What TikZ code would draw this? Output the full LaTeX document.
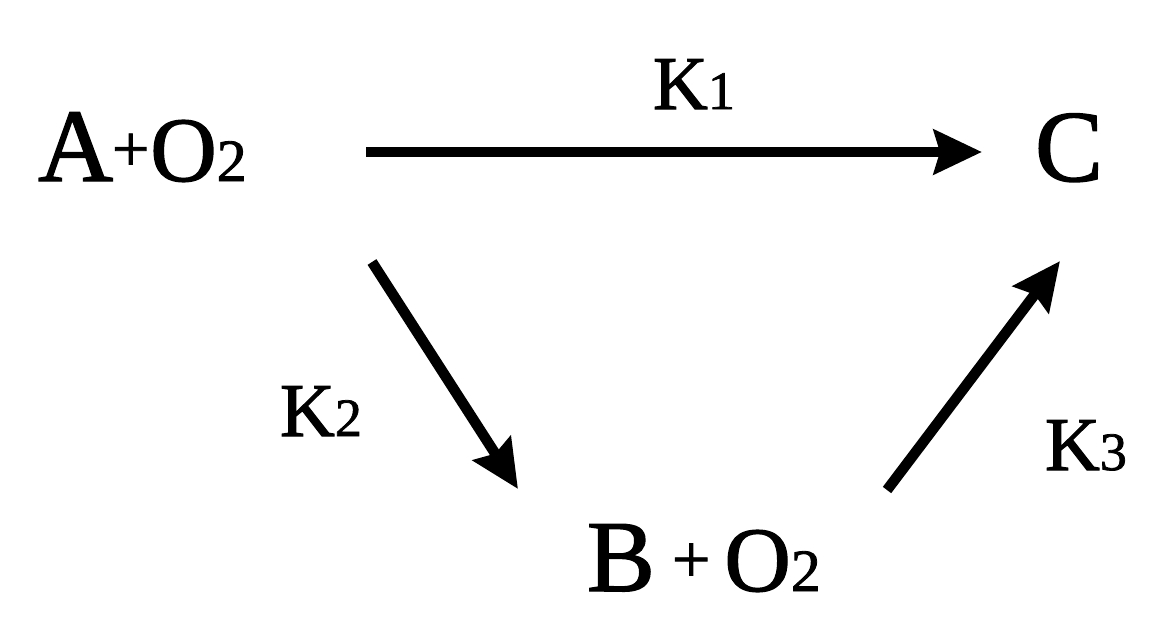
\documentclass[tikz,border=0pt]{standalone}
\usepackage{fontspec}
\setmainfont{Liberation Serif}
\newfontfamily\thk{Liberation Serif}[FakeBold=1.4]
\usetikzlibrary{arrows.meta}
\newcommand{\fs}[1]{\fontsize{#1}{#1}\selectfont}
\tikzset{
  lbl/.style={inner sep=0pt, outer sep=0pt, anchor=base west, font=\thk},
  arr/.style={line width=10.5pt, -{Stealth[length=48pt,width=44pt,inset=6pt]}}
}
\begin{document}
\begin{tikzpicture}[x=1pt,y=-1pt]
\useasboundingbox (0,0) rectangle (1169,633);
% species
\node[lbl] (AO) at (38,181) {\fs{104}A\hspace{-1pt}\raisebox{10pt}{\fs{66}+}\hspace{1pt}\fs{92}O\fs{60}2};
\node[lbl] (C) at (1035,181) {\fs{102}C};
\node[lbl] (BO) at (587,591) {\fs{102}B\hspace{17pt}\raisebox{9pt}{\fs{68}+}\hspace{14pt}\fs{92}O\fs{60}2};
% rate constants
\node[lbl] (K1) at (653,109) {\fs{76}K\fs{54}1};
\node[lbl] (K2) at (280,436) {\fs{76}K\fs{54}2};
\node[lbl] (K3) at (1045,470) {\fs{76}K\fs{54}3};
% arrow end points
\coordinate (a1s) at (366,152);
\coordinate (a1e) at (982,152);
\coordinate (a2s) at (372,262);
\coordinate (a2e) at (518,489);
\coordinate (a3s) at (887,490);
\coordinate (a3e) at (1060,261);
\draw[arr] (a1s) -- (a1e);
\draw[arr] (a2s) -- (a2e);
\draw[arr] (a3s) -- (a3e);
\end{tikzpicture}
\end{document}
